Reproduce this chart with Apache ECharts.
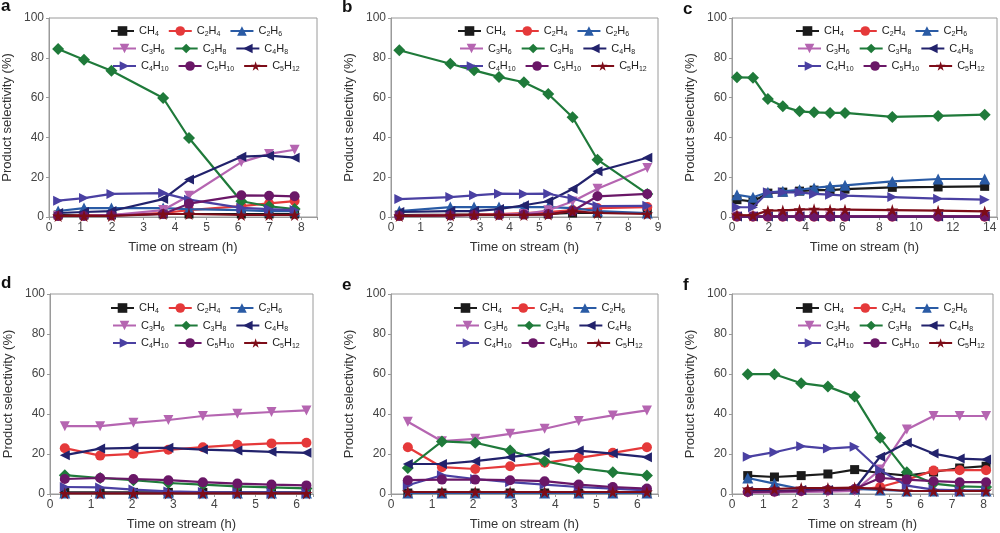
<!DOCTYPE html>
<html><head><meta charset="utf-8">
<script src="https://cdn.jsdelivr.net/npm/echarts@6/dist/echarts.min.js"></script>
<style>html,body{margin:0;padding:0;background:#fff}#c{width:1000px;height:533px}</style>
</head><body><div id="c"></div>
<script>
const species = ['CH4','C2H4','C2H6','C3H6','C3H8','C4H8','C4H10','C5H10','C5H12'];
const xTickLabels = { a: [0,1,2,3,4,5,6,7,8], b: [0,1,2,3,4,5,6,7,8,9], c: [0,2,4,6,8,10,12,14], d: [0,1,2,3,4,5,6], e: [0,1,2,3,4,5,6], f: [0,1,2,3,4,5,6,7,8] };
const yTickLabels = [0,20,40,60,80,100];

// Panel a
const tA = [0.29,1.11,1.98,3.62,4.44,6.1,6.98,7.79];
const a_CH4  = [1,1,1,1.5,1.5,1.5,1.5,1.5];
const a_C2H4 = [0.5,0.8,1,2,3.5,5.5,6.8,8];
const a_C2H6 = [3,4.5,4.5,4.5,4,3.5,3,3];
const a_C3H6 = [0.5,0.5,1,3.5,10.7,27.6,31.7,33.8];
const a_C3H8 = [84.4,79,73.5,59.8,39.7,7.9,5.4,4];
const a_C4H8 = [2,2.5,3,9,18.8,30.3,30.8,29.8];
const a_C4H10= [8.2,9.5,11.6,12,8.7,4.6,4,3.5];
const a_C5H10= [0.5,0.5,0.8,1.5,6.7,10.9,10.7,10.4];
const a_C5H12= [0.5,0.5,0.5,1.5,1.5,1,1,1];

// Panel b
const tB = [0.28,2.0,2.8,3.64,4.48,5.3,6.12,6.96,8.64];
const b_CH4  = [1,1.2,1.3,1.5,1.5,1.5,2,2,2];
const b_C2H4 = [0.5,1,1.2,1.5,2,2.5,3.5,4.5,5];
const b_C2H6 = [3,5,5,5,5,5,4.5,3,2];
const b_C3H6 = [0.5,0.8,1,1.2,1.5,3.4,7.8,14.2,24.6];
const b_C3H8 = [83.8,77,73.7,70.4,67.7,61.8,50.1,28.8,11.6];
const b_C4H8 = [2.5,3,3,4,5.9,7.9,14.1,23,29.8];
const b_C4H10= [9,10,10.9,11.7,11.6,11.7,9.3,5.5,5.6];
const b_C5H10= [0.5,0.8,1,1,1.2,1.5,3,10.4,11.6];
const b_C5H12= [0.5,0.8,1,1,1,1.2,3,2,1.5];

// Panel c
const tC = [0.27,1.14,1.95,2.76,3.67,4.46,5.33,6.14,8.71,11.2,13.73];
const c_CH4  = [8.7,7.8,12,12.5,13,13.5,13.5,14,14.9,15.1,15.4];
const c_C2H4 = [0.2,0.2,0.2,0.2,0.2,0.2,0.2,0.2,0.2,0.2,0.2];
const c_C2H6 = [11.2,9.9,12.4,12.9,13.7,14.6,15.4,15.9,17.9,19.1,19.1];
const c_C3H6 = [0.2,0.2,0.2,0.2,0.2,0.2,0.2,0.2,0.2,0.2,0.2];
const c_C3H8 = [70.2,70,59.3,55.6,53.1,52.6,52.3,52.3,50.3,50.8,51.4];
const c_C4H8 = [0.2,0.2,0.2,0.2,0.2,0.2,0.2,0.2,0.2,0.2,0.2];
const c_C4H10= [4.9,4.9,12.4,12.4,12.4,11.6,11.2,10.7,10,9.2,8.7];
const c_C5H10= [0.3,0.3,0.3,0.3,0.3,0.3,0.3,0.3,0.3,0.3,0.3];
const c_C5H12= [1,0.8,3.2,3.3,3.7,3.9,3.7,3.7,3.5,3.2,2.8];

// Panel d
const tD = [0.36,1.22,2.03,2.88,3.72,4.56,5.39,6.24];
const d_CH4  = [0.8,0.8,0.8,0.8,0.8,0.8,0.8,0.8];
const d_C2H4 = [22.9,19.2,20.1,22.1,23.4,24.6,25.3,25.6];
const d_C2H6 = [0.5,0.5,0.5,0.5,0.5,0.5,0.5,0.5];
const d_C3H6 = [33.9,33.9,35.6,37,39,40.1,41,41.8];
const d_C3H8 = [9.4,8,6.9,5.5,4.7,3.8,3.3,2.8];
const d_C4H8 = [19.4,22.7,23.1,23.1,22.2,21.7,21.1,20.6];
const d_C4H10= [3.5,3.3,2.2,1.3,1,0.8,0.8,0.7];
const d_C5H10= [7.5,8,7.5,6.9,5.9,5.2,4.7,4.3];
const d_C5H12= [0.3,0.3,0.3,0.3,0.3,0.3,0.3,0.3];

// Panel e
const tE = [0.41,1.24,2.05,2.9,3.74,4.57,5.4,6.23];
const e_CH4  = [0.5,0.5,0.5,0.5,0.5,0.5,0.5,0.5];
const e_C2H4 = [23.4,13.4,12.5,13.9,15.6,18.1,20.6,23.4];
const e_C2H6 = [0.5,0.5,0.5,0.5,0.5,0.5,0.5,0.5];
const e_C3H6 = [36.1,26.4,27.6,30.1,32.6,36.5,39.3,41.8];
const e_C3H8 = [13,26.3,25.6,21.7,16.4,13,10.9,9.2];
const e_C4H8 = [15,15,16.4,18.4,20.6,21.7,20.2,18.4];
const e_C4H10= [4.4,9.4,7.5,5.9,4.7,3.5,2.7,1.8];
const e_C5H10= [6.9,7.2,7.2,6.9,6.4,4.7,3.5,2.7];
const e_C5H12= [1,1,1,1,1,1,1,1];

// Panel f
const tF = [0.5,1.35,2.2,3.05,3.9,4.71,5.56,6.41,7.24,8.08];
const f_CH4  = [9.2,8.5,9.2,10,12.2,10.5,9.2,11,13,13.9];
const f_C2H4 = [1,1.2,1.5,1.8,2,3.5,7.2,11.7,11.9,11.9];
const f_C2H6 = [8,5.2,2.5,2.5,2.5,2,1.5,1.5,1.5,1.5];
const f_C3H6 = [0.5,0.8,1,1.2,1.5,12.2,32.3,39,39,39];
const f_C3H8 = [59.9,59.9,55.4,53.7,48.7,28.1,10.9,5.2,3.8,3.5];
const f_C4H8 = [1.5,1.5,2,2,2.5,18.6,25.6,20.2,17.7,17.2];
const f_C4H10= [18.6,20.9,23.9,22.7,23.6,11.9,4.2,2.2,1.8,1.8];
const f_C5H10= [1,1.2,1.5,2,2.5,8,7.2,6.4,5.9,5.9];
const f_C5H12= [2.5,2.5,3,3,3.2,2.5,1.5,1.5,1.5,1.5];

const panelData = [
  {key:'a', t:tA, v:[a_CH4,a_C2H4,a_C2H6,a_C3H6,a_C3H8,a_C4H8,a_C4H10,a_C5H10,a_C5H12]},
  {key:'b', t:tB, v:[b_CH4,b_C2H4,b_C2H6,b_C3H6,b_C3H8,b_C4H8,b_C4H10,b_C5H10,b_C5H12]},
  {key:'c', t:tC, v:[c_CH4,c_C2H4,c_C2H6,c_C3H6,c_C3H8,c_C4H8,c_C4H10,c_C5H10,c_C5H12]},
  {key:'d', t:tD, v:[d_CH4,d_C2H4,d_C2H6,d_C3H6,d_C3H8,d_C4H8,d_C4H10,d_C5H10,d_C5H12]},
  {key:'e', t:tE, v:[e_CH4,e_C2H4,e_C2H6,e_C3H6,e_C3H8,e_C4H8,e_C4H10,e_C5H10,e_C5H12]},
  {key:'f', t:tF, v:[f_CH4,f_C2H4,f_C2H6,f_C3H6,f_C3H8,f_C4H8,f_C4H10,f_C5H10,f_C5H12]}
];

// layout & style (not data)
const layout = [
  {grid:{left:49, top:18, width:268, height:199}, xMax:8.5, lg:[110,24], lab:[1,-2]},
  {grid:{left:391, top:18, width:267, height:199}, xMax:9, lg:[457,24], lab:[342,-1]},
  {grid:{left:732, top:18, width:266, height:199}, xMax:14.4, lg:[795,24], lab:[683,1]},
  {grid:{left:50, top:294, width:263, height:200}, xMax:6.4, lg:[110,301], lab:[1,275]},
  {grid:{left:391, top:294, width:267, height:200}, xMax:6.5, lg:[453,301], lab:[342,277]},
  {grid:{left:732, top:294, width:261, height:200}, xMax:8.3, lg:[795,301], lab:[683,277]}
];
const colors = ['#1b1b1b','#e5393a','#2a5ba5','#b565b1','#1f7a3a','#22226c','#4a40a2','#6a1767','#7d0c18'];
const STAR = 'path://M50,2 L61,36 L97,36 L68,57 L79,92 L50,71 L21,92 L32,57 L3,36 L39,36 Z';
const symbols = ['rect','circle','triangle','path://M0,0 L10,0 L5,9 Z','diamond','path://M0,5 L9,0 L9,10 Z','path://M0,0 L9,5 L0,10 Z','circle',STAR];
const symSizes = [9,10,11,10,12,10,10,10,12];
const FONT = 'Liberation Sans, Arial, sans-serif';

const option = {animation:false, backgroundColor:'#fff', title:[], grid:[], xAxis:[], yAxis:[], legend:[], series:[]};
panelData.forEach((p, i) => {
  const L = layout[i];
  const ticks = xTickLabels[p.key];
  const iv = ticks[1] - ticks[0];
  option.grid.push(Object.assign({show:true, borderColor:'#9a9a9a', borderWidth:1, containLabel:false}, L.grid));
  option.title.push({text:p.key, left:L.lab[0], top:L.lab[1], padding:0, textStyle:{fontFamily:FONT, fontWeight:'bold', fontSize:17, color:'#111'}});
  option.xAxis.push({type:'value', gridIndex:i, min:0, max:L.xMax, interval:iv,
    name:'Time on stream (h)', nameLocation:'middle', nameGap:24,
    nameTextStyle:{fontFamily:FONT, fontSize:13, color:'#333'},
    axisLine:{show:true, lineStyle:{color:'#9a9a9a'}}, axisTick:{show:true, length:3, lineStyle:{color:'#9a9a9a'}},
    splitLine:{show:false},
    axisLabel:{margin:5, fontFamily:FONT, fontSize:12, color:'#444', showMaxLabel:true,
      formatter: v => (ticks.indexOf(Math.round(v*1000)/1000) >= 0 ? String(v) : '')}});
  option.yAxis.push({type:'value', gridIndex:i, min:0, max:100, interval:20,
    name:'Product selectivity (%)', nameLocation:'middle', nameGap:35,
    nameTextStyle:{fontFamily:FONT, fontSize:13, color:'#333'},
    axisLine:{show:true, lineStyle:{color:'#9a9a9a'}}, axisTick:{show:true, length:3, lineStyle:{color:'#9a9a9a'}},
    splitLine:{show:false},
    axisLabel:{margin:5, fontFamily:FONT, fontSize:12, color:'#444', formatter: v => (yTickLabels.indexOf(v) >= 0 ? String(v) : '')}});
  for (let r = 0; r < 3; r++) {
    option.legend.push({
      left: L.lg[0] + (r ? 2 : 0), top: L.lg[1] + r*17.5, orient:'horizontal', padding:0,
      itemWidth:23, itemHeight:12, itemGap:9, selectedMode:false,
      data: species.slice(r*3, r*3+3),
      formatter: name => name.replace(/(\d+)/g, '{s|$1}'),
      textStyle:{fontFamily:FONT, fontSize:11, color:'#222', lineHeight:14,
        rich:{s:{fontFamily:FONT, fontSize:7, color:'#222', lineHeight:5, verticalAlign:'bottom'}}}
    });
  }
  species.forEach((sp, k) => {
    option.series.push({
      type:'line', name:sp, xAxisIndex:i, yAxisIndex:i,
      data: p.t.map((t, j) => [t, p.v[k][j]]),
      symbol: symbols[k], symbolSize: symSizes[k], showAllSymbol:true,
      lineStyle:{color:colors[k], width:2.2}, itemStyle:{color:colors[k]},
      emphasis:{disabled:true}, z: 2 + k*0.01
    });
  });
});
const chart = echarts.init(document.getElementById('c'), null, {renderer:'canvas'});
chart.setOption(option);
</script></body></html>
